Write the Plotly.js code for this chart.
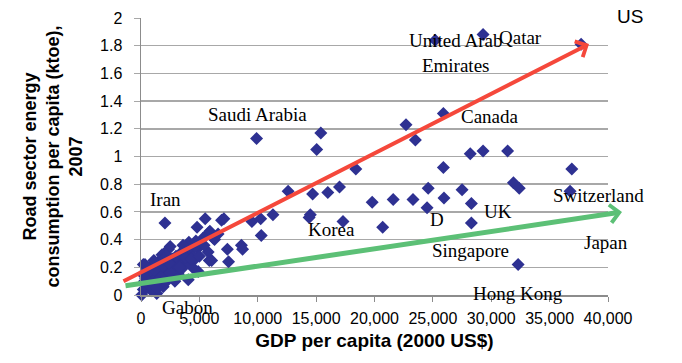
<!DOCTYPE html>
<html>
<head>
<meta charset="utf-8">
<script src="https://cdn.plot.ly/plotly-3.0.1.min.js"></script>
<style>html,body{margin:0;padding:0;background:#fff;}#chart{width:682px;height:363px;}</style>
</head>
<body>
<div id="chart"></div>
<script>
// GDP per capita (2000 US$) and road-sector energy consumption per capita (ktoe), 2007
const gdp = [
  25200, 29300, 37700,
  9900, 15400, 15050, 22700, 23500, 25900,
  28200, 29300, 31400, 25900, 36900, 18400,
  31900, 32400, 12600, 14700, 16000, 17000,
  24600, 27500, 36750, 23300, 21600, 19800,
  25950, 24500, 28300, 11300, 10250, 9500,
  14500, 14400, 17300, 20700, 28300, 10300,
  8600, 32300,
  2050, 4800, 5500, 6900, 7100, 5800, 5900, 6200, 5300, 6300,
  7400, 8700, 7500, 5850, 6050, 4900, 4800, 5750, 4500,
  3350, 4050, 4900, 4050, 2350, 1800, 200, 340, 1050,
  2200, 2500, 3350, 4200, 4650, 1900, 200, 800, 2800, 1650,
  60, 1350, 3050,
  500, 900, 1200, 1500, 2000, 2300, 2600, 1000, 700, 1300,
  1600, 2700, 3000, 3700, 3900, 3500, 2200, 300, 1100, 1800,
  2900, 600, 3200, 4400, 4100, 3600,
  400, 700, 1000, 1400, 1700, 2100, 2500, 2400, 3300, 3800,
  4300, 5000, 5400, 6600, 4700, 150, 1150, 2000
];
const energy = [
  1.84, 1.88, 1.81,
  1.13, 1.17, 1.05, 1.23, 1.12, 1.31,
  1.02, 1.04, 1.04, 0.92, 0.91, 0.91,
  0.81, 0.77, 0.75, 0.73, 0.74, 0.78,
  0.77, 0.76, 0.75, 0.69, 0.69, 0.67,
  0.70, 0.63, 0.66, 0.58, 0.55, 0.53,
  0.58, 0.56, 0.53, 0.49, 0.52, 0.43,
  0.36, 0.22,
  0.52, 0.49, 0.55, 0.54, 0.55, 0.45, 0.46, 0.41, 0.41, 0.40,
  0.33, 0.33, 0.24, 0.25, 0.25, 0.34, 0.34, 0.31, 0.25,
  0.30, 0.27, 0.17, 0.11, 0.33, 0.29, 0.22, 0.22, 0.18,
  0.29, 0.35, 0.25, 0.30, 0.35, 0.06, 0.04, 0.11, 0.16, 0.16,
  0.00, 0.01, 0.22,
  0.05, 0.03, 0.08, 0.10, 0.12, 0.13, 0.19, 0.14, 0.20, 0.22,
  0.25, 0.26, 0.28, 0.23, 0.32, 0.19, 0.20, 0.10, 0.25, 0.20,
  0.10, 0.15, 0.15, 0.20, 0.38, 0.36,
  0.12, 0.07, 0.10, 0.05, 0.13, 0.09, 0.16, 0.23, 0.20, 0.27,
  0.26, 0.28, 0.36, 0.44, 0.39, 0.15, 0.18, 0.26
];

// country labels (text) and their positions as fractions of the plot area
const labelText = ["Iran", "Gabon", "Saudi Arabia", "United Arab<br>Emirates", "Qatar", "Canada",
  "Switzerland", "Japan", "UK", "D", "Korea", "Singapore", "Hong Kong"];
const labelX = [0.0514, 0.1006, 0.2484, 0.6745, 0.8137, 0.7473, 0.9807, 0.9957, 0.7645, 0.6338, 0.4069, 0.7066, 0.8073];
const labelY = [0.343, -0.045, 0.650, 0.874, 0.931, 0.643, 0.361, 0.191, 0.303, 0.271, 0.235, 0.159, 0.0072];

const xTicks = [0, 5000, 10000, 15000, 20000, 25000, 30000, 35000, 40000];
const yTicks = [0, 0.2, 0.4, 0.6, 0.8, 1, 1.2, 1.4, 1.6, 1.8, 2];

const annotations = labelText.map((t, i) => ({
  xref: 'paper', yref: 'paper', x: labelX[i], y: labelY[i],
  text: t, showarrow: false, xanchor: 'center', yanchor: 'middle',
  font: {family: 'Liberation Serif, Times New Roman, serif', size: 19, color: '#000'}
}));
annotations.push({
  xref: 'paper', yref: 'paper', x: 1.047, y: 1.004, text: 'US', showarrow: false,
  xanchor: 'center', yanchor: 'middle',
  font: {family: 'Liberation Sans, Arial, sans-serif', size: 19, color: '#000'}
});
// trend arrows
annotations.push({
  xref: 'paper', yref: 'paper', x: 0.9593, y: 0.906, ax: -467, ay: 238,
  text: '', showarrow: true, arrowhead: 4, arrowsize: 0.85, arrowwidth: 4, arrowcolor: '#f5483b'
});
annotations.push({
  xref: 'paper', yref: 'paper', x: 1.030, y: 0.2996, ax: -498, ay: 74,
  text: '', showarrow: true, arrowhead: 4, arrowsize: 0.7, arrowwidth: 5, arrowcolor: '#5cc076'
});

const data = [{
  type: 'scatter', mode: 'markers', x: gdp, y: energy, cliponaxis: false,
  marker: {symbol: 'diamond', size: 10, color: '#2e3192'},
  hoverinfo: 'x+y'
}];

const layout = {
  width: 682, height: 363,
  margin: {l: 141, r: 74, t: 18, b: 68},
  paper_bgcolor: '#fff', plot_bgcolor: '#fff',
  showlegend: false,
  font: {family: 'Liberation Sans, Arial, sans-serif', color: '#000'},
  xaxis: {
    range: [0, 40000], tickvals: xTicks, tickformat: ',d',
    showgrid: false, zeroline: false, showline: true, linecolor: '#8c8c8c', linewidth: 1.5,
    ticks: 'outside', ticklen: 5, tickcolor: '#8c8c8c', ticklabelstandoff: 3,
    tickfont: {size: 16, family: 'Liberation Sans, Arial, sans-serif'},
    title: {text: 'GDP per capita (2000 US$)', standoff: 8,
      font: {size: 19, family: 'Liberation Sans, Arial, sans-serif', weight: 'bold'}},
    fixedrange: true
  },
  yaxis: {
    range: [0, 2], tickvals: yTicks,
    showgrid: true, gridcolor: '#a8a8a8', gridwidth: 1.5,
    zeroline: false, showline: true, linecolor: '#8c8c8c', linewidth: 1.5,
    ticks: 'outside', ticklen: 6, tickcolor: '#a8a8a8', ticklabelstandoff: 8,
    tickfont: {size: 16, family: 'Liberation Sans, Arial, sans-serif'},
    title: {text: 'Road sector energy<br>consumption per capita (ktoe),<br>2007', standoff: 12,
      font: {size: 18, family: 'Liberation Sans, Arial, sans-serif', weight: 'bold'}},
    fixedrange: true
  },
  annotations: annotations
};

Plotly.newPlot('chart', data, layout, {displayModeBar: false, staticPlot: true});
</script>
</body>
</html>
